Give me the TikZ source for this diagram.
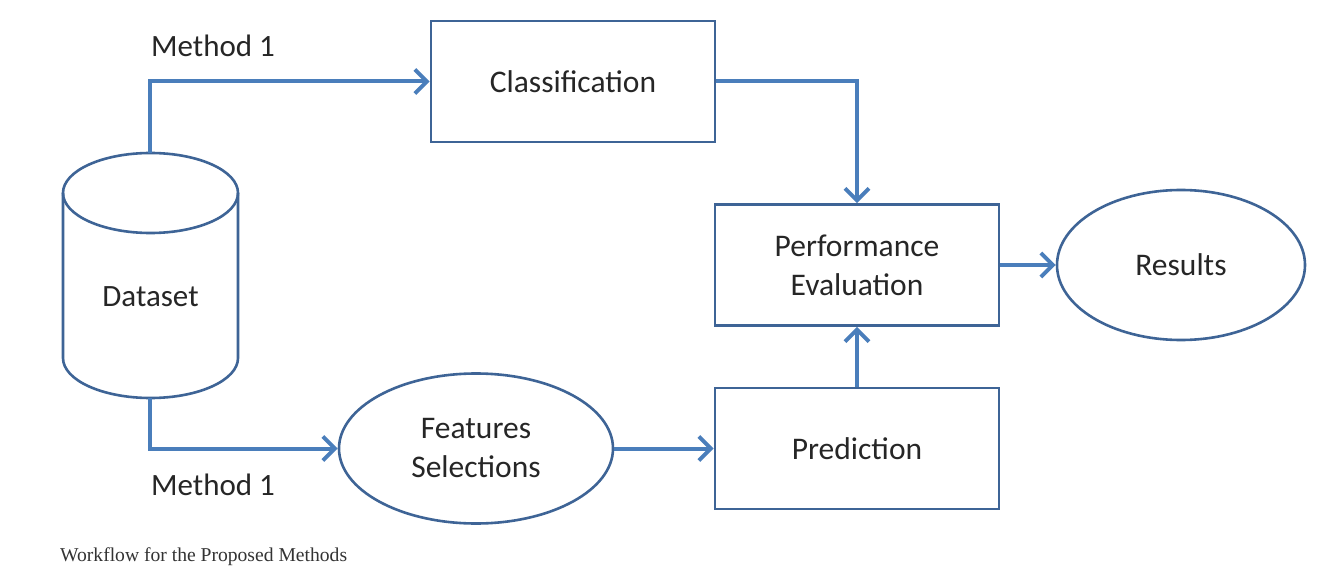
\documentclass[tikz,border=0pt]{standalone}
\usepackage{fontspec}
\setmainfont{Carlito}
\newfontfamily\capfont{Liberation Serif}
\usetikzlibrary{arrows.meta,shapes.geometric}
\definecolor{shapeblue}{HTML}{3E6496}
\definecolor{arrowblue}{HTML}{4A7EBB}
\definecolor{txt}{HTML}{262626}
\tikzset{
  boxnode/.style={draw=shapeblue,line width=2.6pt,rectangle,minimum width=284pt,minimum height=121pt,inner sep=0pt,text=txt,font=\fontsize{31.5}{39}\selectfont,align=center},
  ellnode/.style={draw=shapeblue,line width=2.6pt,ellipse,inner sep=0pt,text=txt,font=\fontsize{31.5}{39}\selectfont,align=center},
  lbl/.style={text=txt,font=\fontsize{31}{39}\selectfont,inner sep=0pt},
  flow/.style={draw=arrowblue,line width=4pt,-{Straight Barb[length=12pt,width=24pt,line width=4pt]}},
  cyl/.style={draw=shapeblue,line width=2.6pt}
}
\begin{document}
\begin{tikzpicture}[x=1pt,y=-1pt]
\useasboundingbox[fill=white] (0,0) rectangle (1327,585);
% cylinder
\draw[cyl] (150.5,193) ellipse [x radius=87.5, y radius=40];
\draw[cyl] (63,193) -- (63,358) arc[start angle=180,end angle=0,x radius=87.5,y radius=40] -- (238,193);
\coordinate (dstop) at (150,153);
\coordinate (dsbot) at (150,398);
\node[lbl] (ds) at (150.5,297) {Dataset};
% boxes
\node[boxnode] (cls) at (573,81.5) {Classification};
\node[boxnode] (perf) at (857,265) {Performance\\Evaluation};
\node[boxnode] (pred) at (857,448.5) {Prediction};
\node[ellnode,minimum width=248pt,minimum height=150pt] (res) at (1181,265) {Results};
\node[ellnode,minimum width=274pt,minimum height=150pt] (feat) at (476,448.5) {Features\\Selections};
% labels
\node[lbl] (m1a) at (213,46) {Method 1};
\node[lbl] (m1b) at (213,485) {Method 1};
% arrows
\draw[flow] (dstop) |- (cls.west);
\draw[flow] (cls.east) -| (perf.north);
\draw[flow] (dsbot) |- (feat.west);
\draw[flow] (feat.east) -- (pred.west);
\draw[flow] (pred.north) -- (perf.south);
\draw[flow] (perf.east) -- (res.west);
% caption
\node[anchor=west,inner sep=0pt,text=black!80,font=\capfont\fontsize{19.6}{23}\selectfont] (cap) at (60,557) {Workflow for the Proposed Methods};
\end{tikzpicture}
\end{document}
